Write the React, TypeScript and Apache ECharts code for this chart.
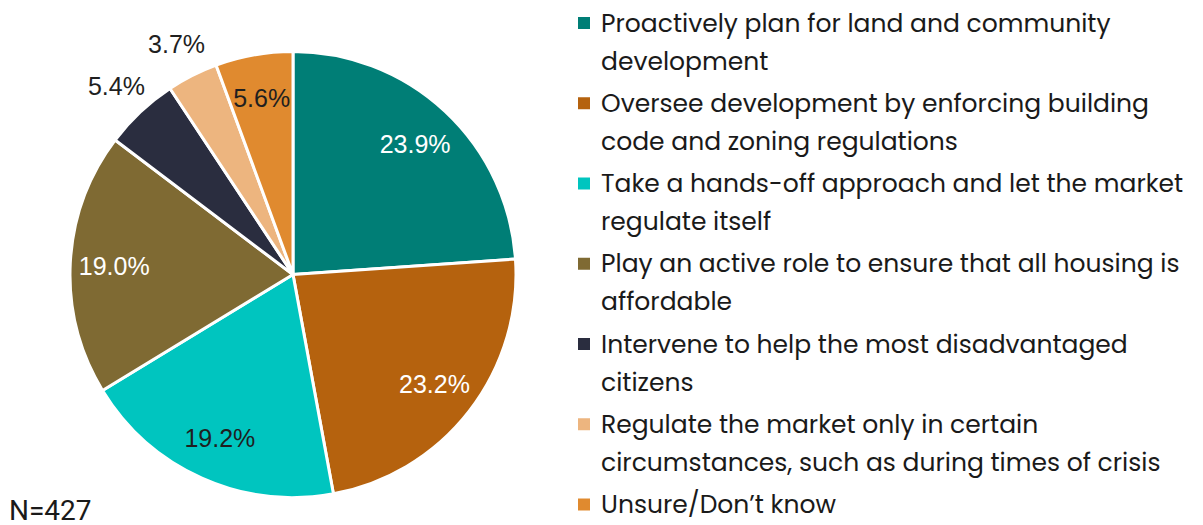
import React, { useEffect, useRef } from "react";
import * as echarts from "echarts";

const categories = [
  "Proactively plan for land and community\ndevelopment",
  "Oversee development by enforcing building\ncode and zoning regulations",
  "Take a hands-off approach and let the market\nregulate itself",
  "Play an active role to ensure that all housing is\naffordable",
  "Intervene to help the most disadvantaged\ncitizens",
  "Regulate the market only in certain\ncircumstances, such as during times of crisis",
  "Unsure/Don\u2019t know",
];
const values = [23.9, 23.2, 19.2, 19.0, 5.4, 3.7, 5.6];
const colors = ["#007E76", "#B5620E", "#00C5BF", "#7F6A33", "#2A2D3F", "#EDB57F", "#E08A2F"];
const labelColors = ["#ffffff", "#ffffff", "#1f1f1f", "#ffffff", "#1f1f1f", "#1f1f1f", "#1f1f1f"];
const outsideLabel = [false, false, false, false, true, true, false];
const sampleNote = "N=427";

const CX = 293;
const CY = 274.5;
const R = 223;

export default function App() {
  const ref = useRef<HTMLDivElement>(null);
  useEffect(() => {
    if (!ref.current) return;
    const chart = echarts.init(ref.current, null, { renderer: "svg" });
    const fmt = (p: any) => Number(p.value).toFixed(1) + "%";
    const labelFont = "'Liberation Sans', Arial, sans-serif";

    const legendFont = "'Poppins', 'Open Sans', sans-serif";
    const legendItems: any[] = [];
    categories.forEach((c, i) => {
      const cy = 23 + i * 80.25;
      legendItems.push({
        type: "rect",
        shape: { x: 578, y: cy - 6, width: 12, height: 12 },
        style: { fill: colors[i] },
        silent: true,
      });
      legendItems.push({
        type: "text",
        x: 601,
        y: cy - 19,
        style: {
          text: c,
          fill: "#1a1a1a",
          font: `25px ${legendFont}`,
          lineHeight: 38,
          verticalAlign: "top",
          align: "left",
        },
        silent: true,
      });
    });
    legendItems.push({
      type: "text",
      x: 9,
      y: 510,
      style: {
        text: sampleNote,
        fill: "#1a1a1a",
        font: "28px Roboto, sans-serif",
        verticalAlign: "middle",
        align: "left",
      },
      silent: true,
    });

    const data = values.map((v, i) => ({
      name: categories[i],
      value: v,
      itemStyle: { color: colors[i] },
    }));

    chart.setOption({
      animation: false,
      graphic: legendItems,
      series: [
        {
          type: "pie",
          center: [CX, CY],
          radius: R,
          startAngle: 90,
          clockwise: true,
          silent: true,
          itemStyle: { borderColor: "#ffffff", borderWidth: 3 },
          label: { show: false },
          labelLine: { show: false },
          emphasis: { disabled: true },
          data,
        },
        {
          type: "pie",
          center: [CX, CY],
          radius: [136, 216],
          startAngle: 90,
          clockwise: true,
          silent: true,
          itemStyle: { color: "rgba(0,0,0,0)" },
          emphasis: { disabled: true },
          labelLine: { show: false },
          data: values.map((v, i) => ({
            name: categories[i],
            value: v,
            label: {
              show: !outsideLabel[i],
              position: "inside",
              formatter: fmt,
              color: labelColors[i],
              fontSize: 25,
              fontFamily: labelFont,
            },
          })),
        },
        {
          type: "pie",
          center: [CX, CY],
          radius: [225, 285],
          startAngle: 90,
          clockwise: true,
          silent: true,
          itemStyle: { color: "rgba(0,0,0,0)" },
          emphasis: { disabled: true },
          labelLine: { show: false },
          data: values.map((v, i) => ({
            name: categories[i],
            value: v,
            label: {
              show: outsideLabel[i],
              position: "inside",
              formatter: fmt,
              color: labelColors[i],
              fontSize: 25,
              fontFamily: labelFont,
            },
          })),
        },
      ],
    });
    return () => chart.dispose();
  }, []);
  return (
    <div
      ref={ref}
      style={{ position: "absolute", left: 0, top: 0, width: 1203, height: 525 }}
    />
  );
}
